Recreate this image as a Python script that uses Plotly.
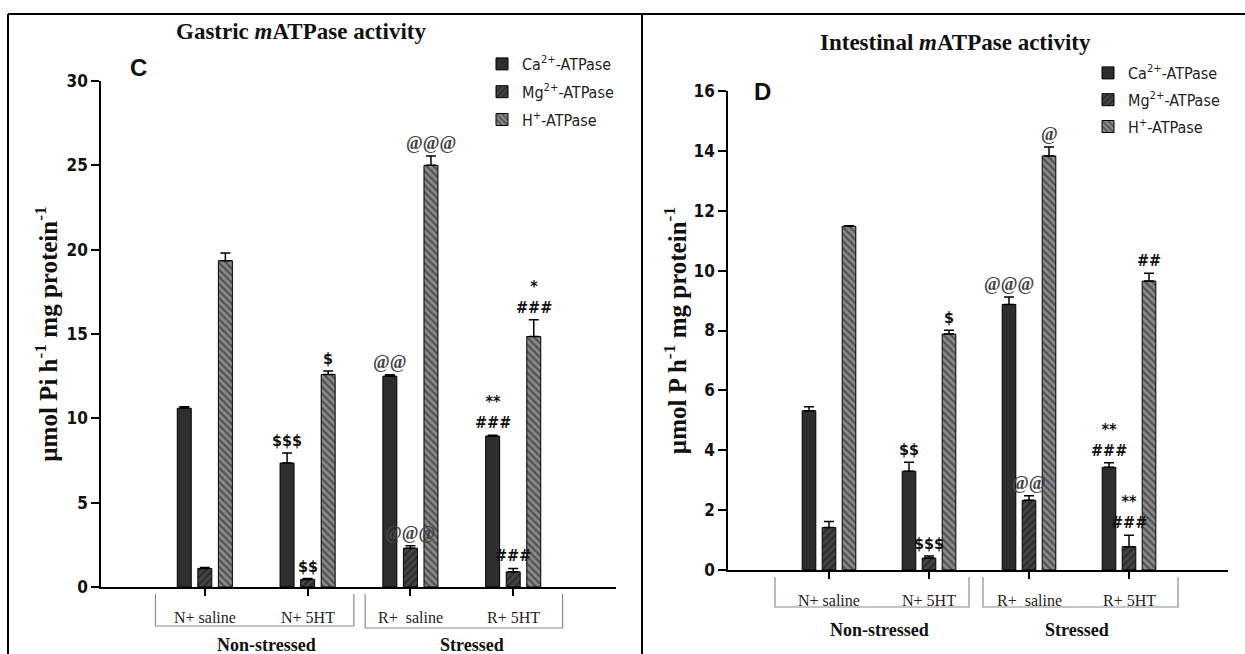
import plotly.graph_objects as go

# ---------------- data ----------------
categories = ["N+ saline", "N+ 5HT", "R+ \u00a0saline", "R+ 5HT"]
condition_groups = ["Non-stressed", "Stressed"]
series_names = ["Ca<sup>2+</sup>-ATPase", "Mg<sup>2+</sup>-ATPase", "H<sup>+</sup>-ATPase"]

gastric_ca = [10.6, 7.35, 12.5, 8.95]
gastric_ca_err = [0.08, 0.6, 0.08, 0.05]
gastric_mg = [1.1, 0.45, 2.3, 0.9]
gastric_mg_err = [0.05, 0.05, 0.15, 0.2]
gastric_h = [19.35, 12.6, 25.0, 14.85]
gastric_h_err = [0.45, 0.2, 0.55, 1.0]

intestinal_ca = [5.32, 3.3, 8.87, 3.43]
intestinal_ca_err = [0.13, 0.3, 0.25, 0.15]
intestinal_mg = [1.42, 0.4, 2.33, 0.78]
intestinal_mg_err = [0.2, 0.07, 0.15, 0.38]
intestinal_h = [11.48, 7.88, 13.83, 9.65]
intestinal_h_err = [0.02, 0.13, 0.3, 0.26]

gastric_ca_sig = ["", "$$$", "@@", "**<br>###"]
gastric_mg_sig = ["", "$$", "@@@", "###"]
gastric_h_sig = ["", "$", "@@@", "*<br>###"]
intestinal_ca_sig = ["", "$$", "@@@", "**<br>###"]
intestinal_mg_sig = ["", "$$$", "@@", "**<br>###"]
intestinal_h_sig = ["", "$", "@", "##"]

gastric_ticks = [0, 5, 10, 15, 20, 25, 30]
intestinal_ticks = [0, 2, 4, 6, 8, 10, 12, 14, 16]

# ---------------- styling ----------------
W, H = 1245, 654
NARROW = "DejaVu Sans Condensed, Liberation Sans Narrow, Arial Narrow, Liberation Sans, Arial, sans-serif"
SANS = "Liberation Sans, Arial, sans-serif"
SERIF = "Liberation Serif, Times New Roman, serif"

styles = [
    dict(color="#2e2e2e", pattern=dict(shape="")),
    dict(color="#454545", pattern=dict(shape="/", fgcolor="#111111", size=5, solidity=0.45, fillmode="overlay")),
    dict(color="#8a8a8a", pattern=dict(shape="\\", fgcolor="#1a1a1a", size=5, solidity=0.45, fillmode="overlay")),
]

panels = [
    dict(xa="x", ya="y", legend="legend",
         vals=[gastric_ca, gastric_mg, gastric_h],
         errs=[gastric_ca_err, gastric_mg_err, gastric_h_err],
         sigs=[gastric_ca_sig, gastric_mg_sig, gastric_h_sig]),
    dict(xa="x2", ya="y2", legend="legend2",
         vals=[intestinal_ca, intestinal_mg, intestinal_h],
         errs=[intestinal_ca_err, intestinal_mg_err, intestinal_h_err],
         sigs=[intestinal_ca_sig, intestinal_mg_sig, intestinal_h_sig]),
]

fig = go.Figure()
offsets = [-0.2, 0.0, 0.2]
annotations = []
for p in panels:
    for k in range(3):
        fig.add_trace(go.Bar(
            x=categories, y=p["vals"][k], name=series_names[k],
            xaxis=p["xa"], yaxis=p["ya"], legend=p["legend"], legendgroup=p["legend"] + str(k),
            marker=dict(color=styles[k]["color"], pattern=styles[k]["pattern"],
                        line=dict(color="black", width=1)),
            error_y=dict(type="data", array=p["errs"][k], arrayminus=[0] * len(categories),
                         symmetric=False, color="black", thickness=1.5, width=5),
        ))
        for i, s in enumerate(p["sigs"][k]):
            if not s:
                continue
            is_at = "@" in s
            annotations.append(dict(
                x=i + offsets[k], y=p["vals"][k][i] + p["errs"][k][i],
                xref=p["xa"], yref=p["ya"], text=s, showarrow=False,
                xanchor="center", yanchor="bottom", yshift=1,
                font=dict(family=SERIF if is_at else NARROW, size=18 if is_at else 16,
                          color="#444444" if is_at else "#111111",
                          weight="bold"),
            ))

# category labels inside the brackets and group labels under them
for xa, ypix in [("x", 617), ("x2", 600)]:
    for i, c in enumerate(categories):
        annotations.append(dict(x=c, y=1 - ypix / H, xref=xa, yref="paper", text=c,
                                showarrow=False, xanchor="center", yanchor="middle",
                                font=dict(family=SERIF, size=16, color="#222")))
for xa, xs, ypix in [("x", [0.6, 2.6], 645), ("x2", [0.5, 2.48], 630)]:
    for g, xv in zip(condition_groups, xs):
        annotations.append(dict(x=xv, y=1 - ypix / H, xref=xa, yref="paper", text=g,
                                showarrow=False, xanchor="center", yanchor="middle",
                                font=dict(family=SERIF, size=18, color="#111", weight="bold")))

# titles and panel letters
annotations += [
    dict(x=301 / W, y=1 - 32 / H, xref="paper", yref="paper", showarrow=False,
         text="Gastric <i>m</i>ATPase activity", xanchor="center", yanchor="middle",
         font=dict(family=SERIF, size=23, color="#111", weight="bold")),
    dict(x=955 / W, y=1 - 42 / H, xref="paper", yref="paper", showarrow=False,
         text="Intestinal <i>m</i>ATPase activity", xanchor="center", yanchor="middle",
         font=dict(family=SERIF, size=23, color="#111", weight="bold")),
    dict(x=138 / W, y=1 - 68 / H, xref="paper", yref="paper", showarrow=False, text="C",
         xanchor="center", yanchor="middle", font=dict(family=SANS, size=24, color="#111", weight="bold")),
    dict(x=762 / W, y=1 - 92 / H, xref="paper", yref="paper", showarrow=False, text="D",
         xanchor="center", yanchor="middle", font=dict(family=SANS, size=24, color="#111", weight="bold")),
]

# brackets under the x axes and table borders
shapes = []
def bracket(xa, x0, x1, ytop, ybot):
    yt, yb = 1 - ytop / H, 1 - ybot / H
    return dict(type="path", xref=xa, yref="paper",
                path=f"M {x0},{yt} L {x0},{yb} L {x1},{yb} L {x1},{yt}",
                line=dict(color="#8c8c8c", width=1.2))
shapes += [bracket("x", -0.48, 1.45, 594, 626), bracket("x", 1.56, 3.48, 594, 628),
           bracket("x2", -0.54, 1.40, 577, 607), bracket("x2", 1.54, 3.49, 577, 607)]
shapes += [
    dict(type="line", xref="paper", yref="paper", x0=8 / W, x1=1, y0=1 - 14 / H, y1=1 - 14 / H,
         line=dict(color="black", width=2)),
    dict(type="line", xref="paper", yref="paper", x0=8 / W, x1=8 / W, y0=0, y1=1 - 14 / H,
         line=dict(color="black", width=2)),
    dict(type="line", xref="paper", yref="paper", x0=642 / W, x1=642 / W, y0=0, y1=1 - 14 / H,
         line=dict(color="black", width=2)),
]

def xaxis(dom, rng):
    return dict(domain=dom, range=rng, showline=True, linecolor="black", linewidth=2,
                ticks="outside", ticklen=7, tickwidth=1.5, tickcolor="black",
                showticklabels=False, showgrid=False, zeroline=False, fixedrange=True)

def yaxis(dom, rng, tv, title, standoff):
    return dict(domain=dom, range=rng, tickvals=tv, showline=True, linecolor="black", linewidth=1.5,
                ticks="outside", ticklen=8, tickwidth=1.5, tickcolor="black",
                tickfont=dict(family=NARROW, size=17, color="#111", weight="bold"),
                title=dict(text=title, standoff=standoff,
                           font=dict(family=SERIF, size=25, color="#111", weight="bold")),
                showgrid=False, zeroline=False, fixedrange=True, automargin=False)

legend_font = dict(family=NARROW, size=16, color="#222")
fig.update_layout(
    width=W, height=H, margin=dict(l=0, r=0, t=0, b=0, pad=0, autoexpand=False),
    paper_bgcolor="white", plot_bgcolor="white",
    barmode="group", bargap=0.4, bargroupgap=0.32,
    xaxis=dict(anchor="y", **xaxis([101 / W, 616 / W], [-1.01, 4.0])),
    yaxis=dict(anchor="x", **yaxis([1 - 587 / H, 1 - 81 / H], [0, 30], gastric_ticks,
                                     "\u00b5mol Pi h<sup>-1</sup> mg protein<sup>-1</sup>", 2)),
    xaxis2=dict(anchor="y2", **xaxis([728 / W, 1228 / W], [-1.01, 3.99])),
    yaxis2=dict(anchor="x2", **yaxis([1 - 570 / H, 1 - 91 / H], [0, 16], intestinal_ticks,
                                       "\u00b5mol P h<sup>-1</sup> mg protein<sup>-1</sup>", 0)),
    legend=dict(x=482 / W, y=1 - 47 / H, xanchor="left", yanchor="top", font=legend_font,
                bgcolor="rgba(0,0,0,0)", tracegroupgap=4),
    legend2=dict(x=1088 / W, y=1 - 56 / H, xanchor="left", yanchor="top", font=legend_font,
                 bgcolor="rgba(0,0,0,0)", tracegroupgap=3),
    annotations=annotations, shapes=shapes,
)

fig.write_html("out.html", config={"displayModeBar": False},
               post_script="document.body.style.margin='0';document.body.style.overflow='hidden';")
